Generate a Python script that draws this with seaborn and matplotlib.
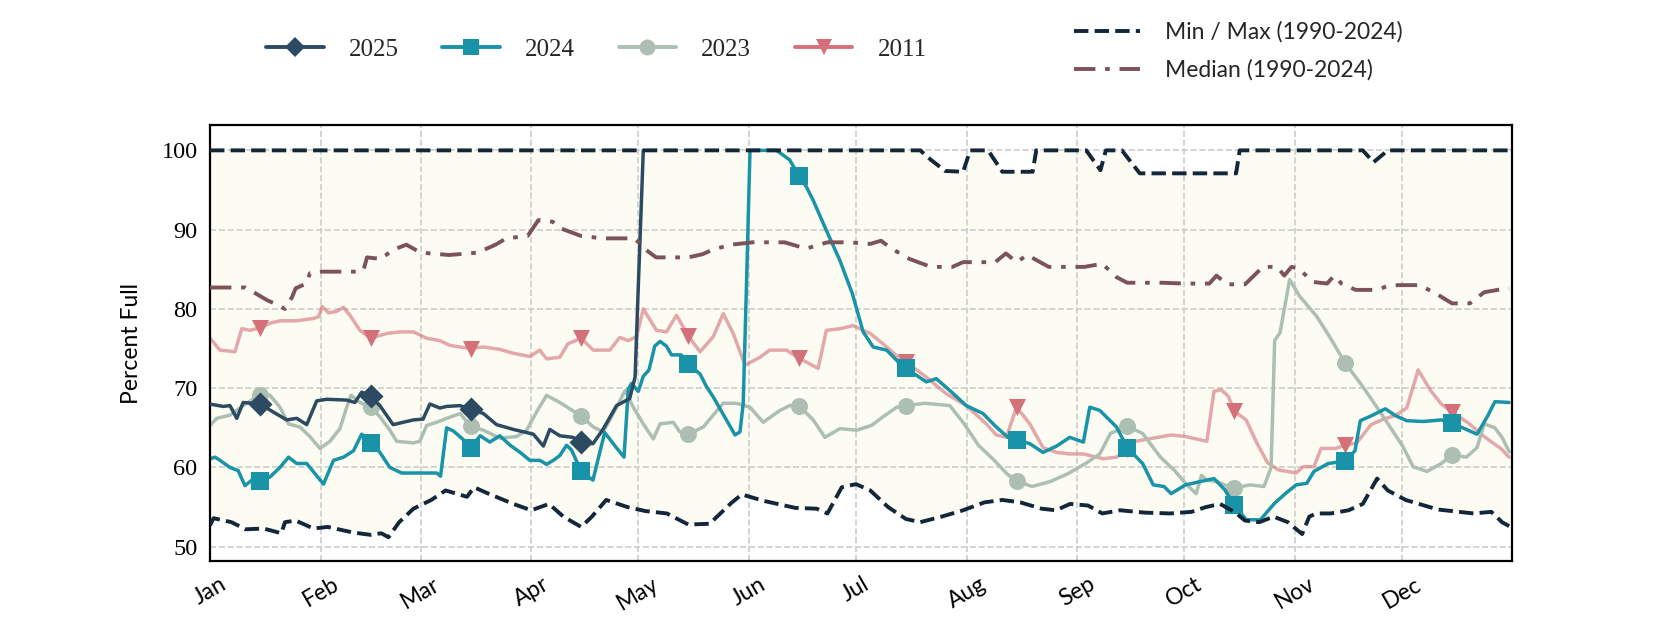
import numpy as np
import pandas as pd
import seaborn as sns
import matplotlib.pyplot as plt
import matplotlib.dates as mdates
from matplotlib.lines import Line2D

max_days = [0, 199, 202, 206, 211, 213, 218, 222, 230.5, 231.5, 245.5, 249.5, 251,
            255.5, 260.5, 287.5, 288.5, 323, 326, 330, 364]
max_vals = [100, 100, 98.8, 97.4, 97.3, 100, 100, 97.3, 97.3, 100, 100, 97.5, 100,
            100, 97.1, 97.1, 100, 100, 98.5, 100, 100]

min_days = [0, 1, 6, 10, 15, 20, 21, 24, 29, 33,
            40, 45, 48, 50, 53, 57, 62, 66, 72, 74,
            78, 85, 90, 95, 99, 104, 107, 111, 117, 122,
            128, 134, 140, 146, 149, 155, 164, 170, 173, 177,
            181, 185, 190, 195, 199, 205, 211, 217, 222, 227,
            233, 237, 241, 246, 250, 255, 262, 269, 275, 279,
            283, 287, 290, 294, 298, 302, 306, 308, 310, 314,
            319, 323, 327, 330, 335, 338, 344, 350, 354, 359,
            362, 364]
min_vals = [52.7, 53.6, 53.1, 52.2, 52.3, 51.7, 53.1, 53.3, 52.3, 52.5,
            51.8, 51.5, 51.7, 51.2, 53.1, 54.8, 55.9, 57.1, 56.3, 57.5,
            56.7, 55.4, 54.6, 55.4, 53.8, 52.5, 53.8, 55.9, 55.0, 54.5,
            54.2, 52.8, 52.9, 55.5, 56.6, 55.8, 54.9, 54.8, 54.2, 57.5,
            57.9, 57.1, 55.0, 53.5, 53.1, 53.8, 54.6, 55.6, 55.9, 55.6,
            54.8, 54.6, 55.4, 55.2, 54.2, 54.6, 54.3, 54.2, 54.4, 55.0,
            55.4, 54.4, 53.3, 53.1, 53.8, 53.1, 51.6, 53.8, 54.2, 54.2,
            54.6, 55.4, 58.6, 57.1, 55.9, 55.5, 54.7, 54.4, 54.2, 54.4,
            53.1, 52.6]

med_days = [0, 10, 13, 16, 19, 21, 23, 24, 27, 28,
            31, 42, 43, 44, 48, 51, 55, 59, 67, 75,
            80, 83, 89, 92, 96, 98, 104, 110, 119, 122,
            125, 134, 138, 141, 146, 152, 161, 167, 173, 179,
            185, 188, 191, 196, 202, 208, 211, 220, 223, 226,
            229, 235, 245, 250, 254, 257, 267, 273, 280, 282,
            285, 290, 295, 299, 301, 303, 305, 309, 313, 315,
            317, 321, 327, 330, 333, 339, 344, 348, 353, 357,
            362, 364]
med_vals = [82.7, 82.7, 81.9, 81.1, 80.5, 80.0, 81.5, 82.6, 83.2, 84.5,
            84.7, 84.7, 84.9, 86.5, 86.3, 87.4, 88.1, 87.1, 86.8, 87.1,
            88.1, 88.9, 89.2, 91.2, 91.0, 90.2, 89.2, 88.9, 88.9, 87.5,
            86.5, 86.5, 86.9, 87.5, 88.1, 88.4, 88.4, 87.6, 88.4, 88.4,
            88.2, 88.6, 87.6, 86.3, 85.3, 85.3, 85.9, 85.9, 87.0, 85.9,
            86.8, 85.3, 85.3, 85.7, 84.0, 83.3, 83.3, 83.2, 83.2, 84.2,
            83.1, 83.1, 85.3, 85.3, 84.2, 85.3, 85.1, 83.4, 83.2, 84.2,
            83.2, 82.4, 82.4, 82.9, 83.0, 83.0, 81.8, 80.7, 80.7, 82.1,
            82.5, 82.5]

days_2025 = [0, 3.7, 5.6, 7.5, 9.3, 14, 17.7, 21.5, 24.3, 27.1,
             29.9, 32.7, 38.3, 40.6, 42.5, 45, 47.6, 51.3, 57, 59.7,
             61.6, 64.4, 66.3, 70, 73, 76.6, 80.3, 85, 90.6, 93.4,
             95.2, 98, 101.7, 104, 107.3, 110.1, 113.9, 117.6, 119.1, 120,
             121.4]
vals_2025 = [68.0, 67.7, 67.8, 66.2, 68.2, 68.0, 67.0, 66.0, 66.2, 65.4,
             68.4, 68.6, 68.5, 68.2, 69.5, 69.0, 67.8, 65.4, 66.0, 66.1,
             68.0, 67.5, 67.7, 67.8, 67.4, 66.8, 65.4, 64.8, 64.2, 62.7,
             64.8, 64.0, 63.8, 63.2, 63.0, 64.8, 67.8, 68.7, 71.4, 82.8,
             100]

days_2024 = [0, 1.4, 2.8, 5.6, 7.9, 9.8, 11.7, 14, 16.8, 19.6,
             22, 24.3, 27.1, 31.8, 34.6, 37.4, 40.2, 42.5, 45, 47.6,
             50.4, 53.7, 63.5, 64.6, 66.3, 68.2, 71, 73, 75.7, 78.4,
             81.2, 84.1, 86.9, 89.6, 92.4, 94.3, 96.2, 98, 99.9, 101.3,
             104, 107.3, 109.2, 110.6, 113.5, 116, 117.2, 118.1, 120, 121.4,
             123, 124.6, 126.1, 127.9, 129.3, 132, 134, 137.3, 139.1, 141,
             144.7, 147.1, 148.5, 149.4, 150.3, 151.3, 158.7, 160.6, 162.4, 165,
             167.1, 169, 172.7, 176.5, 180, 183, 185.8, 189.6, 193.3, 195,
             200.7, 203.5, 207.3, 211.9, 216.6, 220.3, 223.6, 226, 229.7, 233.4,
             237.2, 240.9, 244.7, 246.5, 249.3, 254, 257, 261.3, 264.3, 267.3,
             269.3, 273.3, 277.3, 281.3, 284.3, 287, 290.3, 294.3, 298.3, 301.3,
             304.3, 307.3, 309.3, 313.3, 318, 320.8, 322.3, 325.3, 329.3, 332.3,
             335.3, 340, 345, 348, 352, 355, 358, 360, 364]
vals_2024 = [61.1, 61.3, 60.9, 60.0, 59.6, 57.7, 58.4, 58.3, 58.8, 60.0,
             61.3, 60.5, 60.5, 57.9, 60.9, 61.3, 62.1, 64.2, 63.1, 61.9,
             60.0, 59.3, 59.3, 58.9, 65.0, 64.6, 63.5, 62.5, 64.0, 63.2,
             64.0, 62.8, 61.9, 60.9, 60.9, 60.4, 60.9, 61.5, 62.8, 62.2,
             59.5, 58.4, 61.9, 64.4, 62.7, 61.3, 69.9, 70.6, 69.6, 71.5,
             72.3, 75.3, 75.9, 75.3, 74.2, 74.2, 73.0, 71.8, 70.2, 68.9,
             66.0, 64.1, 64.5, 68.1, 82.8, 100, 100, 99.4, 98.8, 96.8,
             95.4, 93.7, 89.9, 86.1, 81.9, 77.1, 75.2, 74.8, 73.1, 72.5,
             70.8, 71.2, 69.7, 67.8, 66.8, 65.1, 63.8, 63.5, 63.0, 61.9,
             62.7, 63.8, 63.2, 67.6, 67.2, 65.1, 62.5, 60.5, 57.8, 57.6,
             56.7, 57.8, 58.2, 58.6, 57.2, 55.3, 53.4, 53.4, 55.5, 56.7,
             57.8, 58.0, 59.5, 60.5, 60.8, 62.1, 65.9, 66.5, 67.4, 66.5,
             65.9, 65.8, 66.0, 65.6, 64.8, 64.2, 66.5, 68.3, 68.2]

days_2023 = [0, 1.9, 5.6, 9.3, 14, 16.8, 19.6, 22, 25.2, 28,
             30.8, 33.6, 36.4, 38.3, 39.5, 42, 45, 47.6, 50.4, 52.3,
             57, 58.8, 60.7, 63.5, 66.3, 70.1, 73, 76.6, 81.2, 85.9,
             88.7, 91.5, 94.3, 98, 100.8, 104, 107.4, 110.2, 113, 116.3,
             118.6, 121.4, 124.2, 126.1, 129.8, 131.6, 134, 138.2, 141, 143.8,
             147.5, 151.3, 155, 159.7, 162.4, 165, 169, 172.3, 176.5, 181.2,
             185.3, 188.6, 192.4, 195, 200.3, 207.3, 211.3, 215.3, 219.3, 223.3,
             226, 230.3, 235.3, 240.3, 245.3, 249.3, 252.3, 257, 261.3, 266.3,
             270.3, 273.3, 276.3, 277.8, 279.3, 282.3, 285.3, 287, 291.3, 295.3,
             297.3, 298.3, 299.8, 302.5, 305.3, 310, 313.7, 318, 323, 326.8,
             330.5, 334.3, 337.1, 341, 345, 348, 352, 355, 357, 360,
             362, 364]
vals_2023 = [65.3, 66.2, 66.6, 67.8, 69.2, 69.1, 67.6, 65.5, 65.1, 63.9,
             62.4, 63.3, 64.9, 67.6, 69.1, 68.2, 67.6, 66.4, 64.7, 63.3,
             63.1, 63.3, 65.3, 65.7, 66.2, 66.8, 65.2, 64.7, 63.7, 63.9,
             64.7, 67.0, 69.1, 68.2, 67.4, 66.5, 65.1, 64.5, 66.8, 69.7,
             67.6, 65.5, 63.6, 65.5, 65.7, 64.5, 64.2, 65.1, 66.6, 68.1,
             68.1, 67.6, 65.7, 67.2, 67.8, 67.8, 66.0, 63.8, 64.9, 64.7,
             65.3, 66.4, 67.6, 67.8, 68.1, 67.8, 65.5, 62.8, 61.1, 59.2,
             58.3, 57.6, 58.2, 59.2, 60.5, 61.7, 64.3, 65.2, 64.3, 61.3,
             59.6, 58.0, 56.7, 59.0, 58.4, 58.2, 57.6, 57.4, 57.8, 57.6,
             60.0, 76.0, 77.0, 83.7, 81.6, 79.1, 76.5, 73.2, 70.2, 67.7,
             65.2, 62.6, 60.1, 59.5, 60.5, 61.6, 61.3, 62.5, 65.5, 65.0,
             63.8, 62.0]

days_2011 = [0, 2.8, 7, 8.9, 11.2, 14, 16.8, 19.6, 24.3, 29,
             30.4, 31.4, 33.2, 35.5, 37.4, 39.2, 42, 45, 49.5, 53.2,
             57, 60.7, 64.4, 67.2, 70, 73, 76.6, 81.2, 85, 89.6,
             92.4, 94.3, 98, 100.3, 104, 107.4, 112, 114.8, 117.2, 119.5,
             121.4, 125.1, 127.9, 130.7, 134, 137.3, 141, 143.8, 146.6, 149.9,
             154.1, 156.8, 161.5, 165, 170.4, 172.7, 176.5, 180.2, 185, 189.6,
             193.3, 195, 200.7, 206.3, 211.9, 217.5, 220.3, 223.1, 226, 229.7,
             233.4, 237.2, 240.9, 244.7, 250.3, 254, 257, 259.3, 264.3, 269.3,
             273.3, 279.3, 281.3, 283.3, 285.3, 287, 290.3, 293.3, 296.3, 299.3,
             304.3, 306.3, 309.3, 311.3, 315.3, 318, 321.3, 325.3, 328.3, 332.3,
             335.3, 337.1, 338.5, 342, 345, 348, 352.6, 357, 361.9, 364]
vals_2011 = [76.3, 74.8, 74.6, 77.5, 77.3, 77.6, 78.2, 78.5, 78.5, 78.8,
             79.0, 80.3, 79.5, 79.7, 80.2, 79.2, 77.3, 76.3, 76.9, 77.1,
             77.1, 76.3, 76.0, 75.4, 75.2, 75.0, 75.2, 74.9, 74.4, 74.0,
             74.8, 73.7, 73.9, 75.6, 76.3, 74.8, 74.8, 76.4, 76.0, 76.5,
             80.0, 77.3, 77.1, 79.2, 76.6, 74.6, 76.5, 79.4, 76.9, 72.9,
             73.9, 74.8, 74.8, 73.8, 72.5, 77.3, 77.5, 77.9, 76.9, 75.2,
             73.7, 73.3, 71.4, 69.3, 67.8, 65.5, 64.1, 63.8, 67.6, 65.5,
             62.5, 61.9, 61.7, 61.7, 61.1, 61.3, 62.3, 63.3, 63.7, 64.1,
             63.9, 63.3, 69.6, 69.8, 69.0, 67.1, 66.0, 63.1, 60.6, 59.7,
             59.3, 60.1, 60.1, 62.4, 62.4, 62.8, 63.1, 65.4, 66.0, 66.6,
             67.5, 70.2, 72.3, 69.7, 68.0, 67.0, 65.6, 63.9, 62.3, 61.3]

# markers sit on the 15th of each month
mark_days = [14, 45, 73, 104, 134, 165, 195, 226, 257, 287, 318, 348]
mark_2025 = [68.0, 69.0, 67.4, 63.2]
mark_2024 = [58.3, 63.1, 62.5, 59.5, 73.0, 96.8, 72.5, 63.5, 62.5, 55.3, 60.8, 65.6]
mark_2023 = [69.2, 67.6, 65.2, 66.5, 64.2, 67.8, 67.8, 58.3, 65.2, 57.4, 73.2, 61.6]
mark_2011 = [77.6, 76.3, 75.0, 76.3, 76.6, 73.8, 73.3, 67.6, 62.3, 67.1, 62.8, 67.0]

base = pd.Timestamp('2025-01-01')


def to_dates(days):
    return base + pd.to_timedelta(np.asarray(days, dtype=float), unit='D')


sns.set_theme(style='white')
plt.rcParams['font.family'] = ['Lato', 'DejaVu Sans']
num_font = 'Liberation Serif'

fig, ax = plt.subplots(figsize=(16.8, 6.3), dpi=100)
fig.subplots_adjust(left=0.125, right=0.9, top=0.8016, bottom=0.1095)

c25, c24, c23, c11 = '#2c4b62', '#1993a7', '#adbfb3', '#d4707a'
c_minmax, c_med = '#14263a', '#7b5359'
lw = 2.5

series = [
    (days_2011, vals_2011, mark_2011, c11, 'v', 0.6, 2.0),
    (days_2023, vals_2023, mark_2023, c23, 'o', 1.0, 2.2),
    (days_2024, vals_2024, mark_2024, c24, 's', 1.0, 2.4),
    (days_2025, vals_2025, mark_2025, c25, 'D', 1.0, 2.6),
]
for d, v, mk, col, m, a, z in series:
    sns.lineplot(x=to_dates(d), y=v, ax=ax, color=col, lw=lw, alpha=a, zorder=z)
    sns.scatterplot(x=to_dates(mark_days[:len(mk)]), y=mk, ax=ax, marker=m,
                    s=150, color=col, linewidth=0, zorder=z + 0.05)

sns.lineplot(x=to_dates(med_days), y=med_vals, ax=ax, color=c_med, lw=2.8,
             zorder=3)
ax.lines[-1].set_dashes([5.5, 2.5, 1.2, 2.5])
sns.lineplot(x=to_dates(min_days), y=min_vals, ax=ax, color=c_minmax, lw=2.8,
             zorder=3.1)
ax.lines[-1].set_linestyle('--')
sns.lineplot(x=to_dates(max_days), y=max_vals, ax=ax, color=c_minmax, lw=2.8,
             zorder=3.1)
ax.lines[-1].set_linestyle('--')

# shaded band between the historical min and max
band_x = np.concatenate([mdates.date2num(to_dates(min_days)),
                         mdates.date2num(to_dates(max_days))[::-1]])
band_y = np.concatenate([min_vals, max_vals[::-1]])
ax.fill(band_x, band_y, color='#fcfcf2', lw=0, zorder=1)

ax.set_xlim(base, base + pd.Timedelta(days=364.8))
ax.set_ylim(48.2, 103.2)
ax.set_yticks([50, 60, 70, 80, 90, 100])
ax.xaxis.set_major_locator(mdates.MonthLocator())
ax.xaxis.set_major_formatter(mdates.DateFormatter('%b'))
ax.set_axisbelow('line')
ax.grid(True, color='#cccccc', linestyle='--', lw=1.2)
ax.set_facecolor('white')
for sp in ax.spines.values():
    sp.set_color('black')
    sp.set_linewidth(1.6)
    sp.set_visible(True)

ax.tick_params(axis='both', length=0, colors='black')
ax.tick_params(axis='y', pad=9, labelsize=17.5)
ax.tick_params(axis='x', pad=9, labelsize=16.5, labelrotation=30)
for lab in ax.get_yticklabels():
    lab.set_fontfamily(num_font)
ax.set_xlabel('')
ax.set_ylabel('Percent Full', fontsize=16.5, labelpad=14, color='black')

year_handles = [
    Line2D([], [], color=c25, lw=2.8, marker='D', markersize=10, markeredgewidth=0),
    Line2D([], [], color=c24, lw=2.8, marker='s', markersize=11.5, markeredgewidth=0),
    Line2D([], [], color=c23, lw=2.8, marker='o', markersize=11.5, markeredgewidth=0),
    Line2D([], [], color=c11, lw=2.8, marker='v', markersize=11.5, markeredgewidth=0),
]
fig.legend(year_handles, ['2025', '2024', '2023', '2011'], loc='center',
           bbox_to_anchor=(0.355, 0.921), ncol=4, frameon=False,
           handlelength=2.3, handletextpad=1.0, columnspacing=1.75,
           prop={'family': num_font, 'size': 18})

ref_handles = [
    Line2D([], [], color=c_minmax, lw=2.8, linestyle='--'),
    Line2D([], [], color=c_med, lw=2.8, dashes=[5.5, 2.5, 1.2, 2.5]),
]
fig.legend(ref_handles, ['Min / Max (1990-2024)', 'Median (1990-2024)'],
           loc='center', bbox_to_anchor=(0.737, 0.919), ncol=1, frameon=False,
           handlelength=2.9, handletextpad=1.1, labelspacing=0.7, fontsize=16.5)

fig.savefig('out.png', dpi=100)
